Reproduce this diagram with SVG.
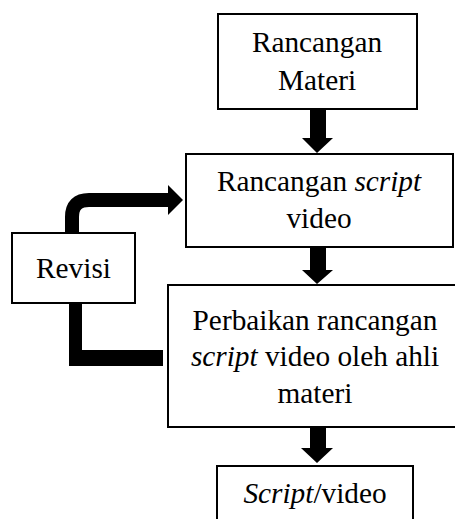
<svg xmlns="http://www.w3.org/2000/svg" width="455" height="519" viewBox="0 0 455 519">
<style>
.box{fill:#fff;stroke:#000;stroke-width:2}
.t{font-family:"Liberation Serif","Times New Roman",serif;font-size:29.3px;fill:#000;text-anchor:middle}
.i{font-style:italic}
.conn{fill:#000;stroke:none}
</style>
<g id="connectors">
<polygon class="conn" points="310,109 326,109 326,138 333,138 317,153 302,138 310,138"/>
<polygon class="conn" points="310,247 326,247 326,270 333,270 317,284 302,270 310,270"/>
<polygon class="conn" points="310,428 326,428 326,448 333,448 317,463 301,448 310,448"/>
<path d="M72,238 V217 Q72,200 89,200 H169" fill="none" stroke="#000" stroke-width="14"/>
<polygon class="conn" points="168,185 183,200 168,215"/>
<polygon class="conn" points="69,299 82,299 82,350 163,350 163,366 69,366"/>
</g>
<g id="n1">
<rect class="box" x="218" y="14" width="199" height="95"/>
<text class="t" x="317" y="52">Rancangan</text>
<text class="t" x="317" y="90">Materi</text>
</g>
<g id="n2">
<rect class="box" x="186" y="154" width="267" height="93"/>
<text class="t" x="319" y="191">Rancangan <tspan class="i">script</tspan></text>
<text class="t" x="319" y="228">video</text>
</g>
<g id="n3">
<rect class="box" x="12" y="233" width="123" height="70"/>
<text class="t" x="73.5" y="278">Revisi</text>
</g>
<g id="n4">
<rect class="box" x="168" y="285" width="300" height="142"/>
<text class="t" x="315" y="330">Perbaikan rancangan</text>
<text class="t" x="315" y="366"><tspan class="i">script</tspan> video oleh ahli</text>
<text class="t" x="315" y="403">materi</text>
</g>
<g id="n5">
<rect class="box" x="217" y="466" width="196" height="70"/>
<text class="t" x="315" y="503"><tspan class="i">Script</tspan>/video</text>
</g>
</svg>
